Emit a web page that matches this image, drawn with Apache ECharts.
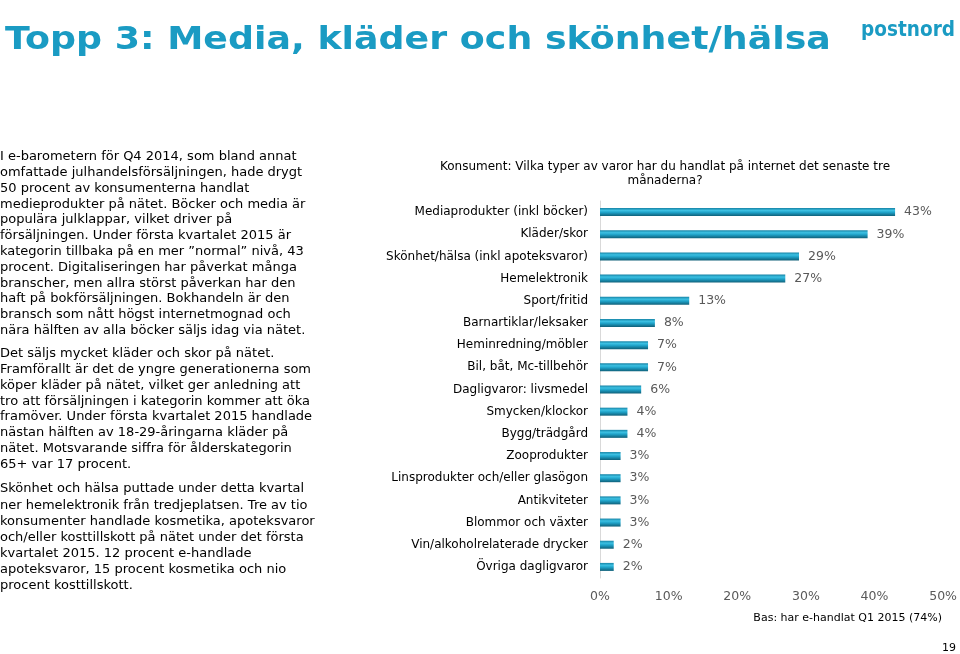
<!DOCTYPE html>
<html>
<head>
<meta charset="utf-8">
<script src="https://cdn.jsdelivr.net/npm/echarts@6/dist/echarts.min.js"></script>
<style>html,body{margin:0;padding:0;background:#fff}#c{width:960px;height:654px}</style>
</head>
<body>
<div id="c"></div>
<script>
const categories = ["Mediaprodukter (inkl böcker)","Kläder/skor","Skönhet/hälsa (inkl apoteksvaror)","Hemelektronik","Sport/fritid","Barnartiklar/leksaker","Heminredning/möbler","Bil, båt, Mc-tillbehör","Dagligvaror: livsmedel","Smycken/klockor","Bygg/trädgård","Zooprodukter","Linsprodukter och/eller glasögon","Antikviteter","Blommor och växter","Vin/alkoholrelaterade drycker","Övriga dagligvaror"];
const values = [43,39,29,27,13,8,7,7,6,4,4,3,3,3,3,2,2];
const tickMin = 0, tickMax = 50, tickStep = 10;

const titleText = "Topp 3: Media, kläder och skönhet/hälsa";
const questionText = "Konsument: Vilka typer av varor har du handlat på internet det senaste tre\nmånaderna?";
const baseText = "Bas: har e-handlat Q1 2015 (74%)";
const pageNo = "19";
const para1 = ["I e-barometern för Q4 2014, som bland annat","omfattade julhandelsförsäljningen, hade drygt","50 procent av konsumenterna handlat","medieprodukter på nätet. Böcker och media är","populära julklappar, vilket driver på","försäljningen. Under första kvartalet 2015 är","kategorin tillbaka på en mer ”normal” nivå, 43","procent. Digitaliseringen har påverkat många","branscher, men allra störst påverkan har den","haft på bokförsäljningen. Bokhandeln är den","bransch som nått högst internetmognad och","nära hälften av alla böcker säljs idag via nätet."];
const para2 = ["Det säljs mycket kläder och skor på nätet.","Framförallt är det de yngre generationerna som","köper kläder på nätet, vilket ger anledning att","tro att försäljningen i kategorin kommer att öka","framöver. Under första kvartalet 2015 handlade","nästan hälften av 18-29-åringarna kläder på","nätet. Motsvarande siffra för ålderskategorin","65+ var 17 procent."];
const para3 = ["Skönhet och hälsa puttade under detta kvartal","ner hemelektronik från tredjeplatsen. Tre av tio","konsumenter handlade kosmetika, apoteksvaror","och/eller kosttillskott på nätet under det första","kvartalet 2015. 12 procent e-handlade","apoteksvaror, 15 procent kosmetika och nio","procent kosttillskott."];

const FONT = "DejaVu Sans";
const teal = "#1a9bc3";

const chart = echarts.init(document.getElementById('c'), null, {renderer:'canvas'});
function para(lines, top, lh){
  return {type:'text', x:0, y:top, style:{text:lines.join('\n'), font:'13px "'+FONT+'"', fill:'#000', lineHeight:lh, align:'left', verticalAlign:'top'}};
}
chart.setOption({
  animation:false,
  backgroundColor:'#fff',
  textStyle:{fontFamily:FONT},
  grid:{left:600, right:15, top:201, bottom:76, containLabel:false},
  xAxis:{type:'value', min:tickMin, max:tickMax, interval:tickStep,
    axisLabel:{formatter:'{value}%', color:'#595959', fontSize:12.5, fontFamily:FONT, margin:12},
    axisLine:{show:false}, axisTick:{show:false}, splitLine:{show:false}},
  yAxis:{type:'category', data:categories, inverse:true,
    axisLine:{show:true, lineStyle:{color:'#d9d9d9', width:1}}, axisTick:{show:false},
    axisLabel:{color:'#000', fontSize:12, fontFamily:FONT, margin:12}},
  series:[{type:'bar', data:values, barWidth:8,
    itemStyle:{color:new echarts.graphic.LinearGradient(0,0,0,1,[
      {offset:0,color:'#1784a6'},{offset:0.3,color:'#3cc0e2'},{offset:0.55,color:'#1fa2c8'},{offset:1,color:'#0f5f78'}])},
    label:{show:true, position:'right', distance:9, formatter:'{c}%', color:'#595959', fontSize:12.5, fontFamily:FONT}
  }],
  graphic:[
    {type:'text', x:5, y:41, scaleX:1.136, style:{text:titleText, font:'bold 32px "'+FONT+'"', fill:teal, align:'left', verticalAlign:'middle'}},
    {type:'text', x:955, y:30, scaleX:0.84, style:{text:'postnord', font:'bold 22px "'+FONT+'"', fill:teal, align:'right', verticalAlign:'middle'}},
    {type:'text', x:665, y:160, style:{text:questionText, font:'12px "'+FONT+'"', fill:'#000', align:'center', verticalAlign:'top', lineHeight:14}},
    para(para1, 149, 15.8),
    para(para2, 346, 15.8),
    para(para3, 481, 16.1),
    {type:'text', x:942, y:618, style:{text:baseText, font:'11px "'+FONT+'"', fill:'#000', align:'right', verticalAlign:'middle'}},
    {type:'text', x:956, y:648, style:{text:pageNo, font:'11px "'+FONT+'"', fill:'#000', align:'right', verticalAlign:'middle'}}
  ]
});
</script>
</body>
</html>
